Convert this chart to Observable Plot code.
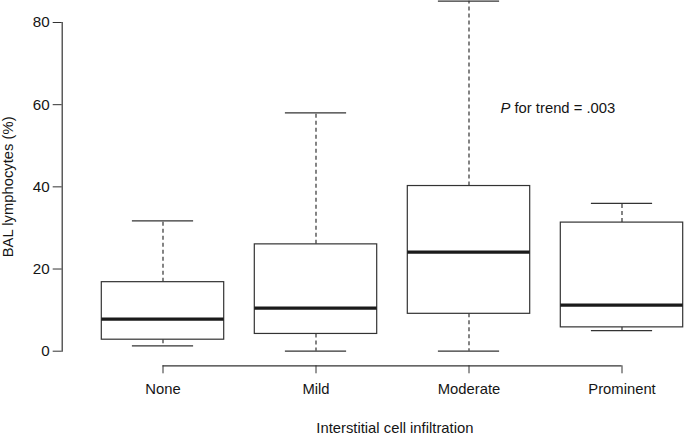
<!DOCTYPE html>
<html>
<head>
<meta charset="utf-8">
<script src="https://cdn.jsdelivr.net/npm/d3@7"></script>
<script src="https://cdn.jsdelivr.net/npm/@observablehq/plot@0.6"></script>
<style>
  html, body { margin: 0; padding: 0; background: #fff; }
</style>
</head>
<body>
<script>
// Categories and five-number summaries
const categories = ["None", "Mild", "Moderate", "Prominent"];
const lowerWhisker = [1.3, 0.0, 0.0, 5.0];
const lowerQuartile = [2.8, 4.2, 9.1, 5.8];
const medianValue = [7.8, 10.5, 24.1, 11.2];
const upperQuartile = [16.8, 26.0, 40.2, 31.3];
const upperWhisker = [31.7, 58.0, 85.2, 36.0];

const yTicks = [0, 20, 40, 60, 80];
const yLabel = "BAL lymphocytes (%)";
const xLabel = "Interstitial cell infiltration";
const annotationText = ["P for trend = .003"];
const annotationX = ["Moderate"];
const annotationY = [59.2];

const rows = categories.map((c, i) => ({
  cat: c,
  lo: lowerWhisker[i],
  q1: lowerQuartile[i],
  med: medianValue[i],
  q3: upperQuartile[i],
  hi: upperWhisker[i]
}));
const annotations = annotationText.map((t, i) => ({text: t, x: annotationX[i], y: annotationY[i]}));

const FONT = "'Liberation Sans', Arial, Helvetica, sans-serif";
const ink = "#151515";
const xRange = [86, 698];
const bandwidth = ((xRange[1] - xRange[0]) / 4) * 0.8;

const chart = Plot.plot({
  width: 685,
  height: 436,
  marginLeft: 61.7,
  marginRight: 0,
  marginTop: 22,
  marginBottom: 85.3,
  style: {fontFamily: FONT, fontSize: "14.8px", color: ink, background: "#fff"},
  x: {type: "band", domain: categories, range: xRange, paddingInner: 0.2, paddingOuter: 0.1, round: false},
  y: {domain: [0, 80]},
  marks: [
    // y axis line and ticks
    Plot.frame({anchor: "left", stroke: "#333", strokeWidth: 1.2}),
    Plot.axisY(yTicks, {tickSize: 9, tickPadding: 3.5, fontSize: 15.2, label: null, tickFormat: d => String(d), stroke: "#333", fill: ink}),
    // x axis line and ticks (offset below plot region)
    Plot.ruleY([0], {x1: () => categories[0], x2: () => categories[categories.length - 1], insetLeft: bandwidth / 2, insetRight: bandwidth / 2, dy: 14.6, stroke: "#333", strokeWidth: 1.2}),
    Plot.axisX({tickSize: 8, tickPadding: 9.2, dy: 14.6, fontSize: 14.8, label: null, stroke: "#333", fill: ink}),
    // whiskers
    Plot.ruleX(rows, {x: "cat", y1: "q3", y2: "hi", stroke: "#333", strokeWidth: 1.2, strokeDasharray: "4,3"}),
    Plot.ruleX(rows, {x: "cat", y1: "q1", y2: "lo", stroke: "#333", strokeWidth: 1.2, strokeDasharray: "4,3"}),
    // whisker caps
    Plot.tickY(rows, {x: "cat", y: "hi", insetLeft: bandwidth / 4, insetRight: bandwidth / 4, stroke: "#333", strokeWidth: 1.2}),
    Plot.tickY(rows, {x: "cat", y: "lo", insetLeft: bandwidth / 4, insetRight: bandwidth / 4, stroke: "#333", strokeWidth: 1.2}),
    // boxes
    Plot.barY(rows, {x: "cat", y1: "q1", y2: "q3", fill: "#fff", stroke: "#333", strokeWidth: 1.2}),
    // medians
    Plot.tickY(rows, {x: "cat", y: "med", stroke: "#1a1a1a", strokeWidth: 3.2}),
    // annotation
    Plot.text(annotations, {x: "x", y: "y", text: "text", textAnchor: "start", dx: 31.5, fontSize: 14.8, fill: ink}),
    // axis titles
    Plot.text([yLabel], {frameAnchor: "left", textAnchor: "middle", lineAnchor: "middle", rotate: -90, dx: -54, fontSize: 14.8, fill: ink}),
    Plot.text([xLabel], {frameAnchor: "bottom", textAnchor: "middle", lineAnchor: "middle", dy: 77.3, dx: 21, fontSize: 14.8, fill: ink})
  ]
});

// italicise the "P" of the annotation while keeping it real text
chart.querySelectorAll("text").forEach(t => {
  if (t.textContent === annotationText[0]) {
    const rest = annotationText[0].slice(1);
    t.textContent = "";
    const p = document.createElementNS("http://www.w3.org/2000/svg", "tspan");
    p.setAttribute("font-style", "italic");
    p.textContent = "P";
    t.appendChild(p);
    t.appendChild(document.createTextNode(rest));
  }
});

document.body.appendChild(chart);
</script>
</body>
</html>
